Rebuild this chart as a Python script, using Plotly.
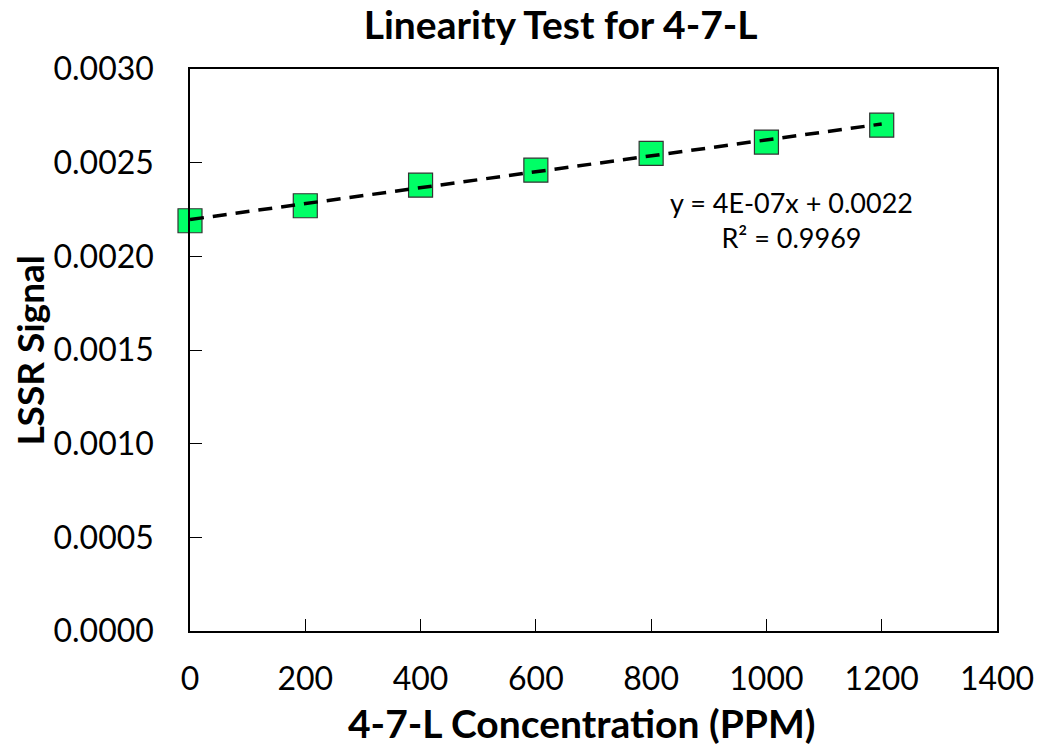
import numpy as np
import plotly.graph_objects as go

concentration = [0, 200, 400, 600, 800, 1000, 1200]
lssr_signal = [0.00219, 0.00227, 0.00238, 0.00246, 0.00255, 0.00261, 0.00270]
x_ticks = [0, 200, 400, 600, 800, 1000, 1200, 1400]
y_ticks = [0.0, 0.0005, 0.0010, 0.0015, 0.0020, 0.0025, 0.0030]

slope, intercept = np.polyfit(concentration, lssr_signal, 1)
trend_x = [concentration[0], concentration[-1]]
trend_y = [slope * v + intercept for v in trend_x]

FONT = "Lato"

fig = go.Figure()
fig.add_trace(go.Scatter(
    x=concentration, y=lssr_signal, mode="markers", cliponaxis=False,
    marker=dict(symbol="square", size=24, color="#00FF66",
                line=dict(color="#333333", width=1.2)),
    showlegend=False,
))
fig.add_trace(go.Scatter(
    x=trend_x, y=trend_y, mode="lines", cliponaxis=False,
    line=dict(color="black", width=3.5, dash="14px,9px"),
    showlegend=False,
))

fig.add_annotation(
    x=0.745, y=0.732, xref="paper", yref="paper",
    xanchor="center", yanchor="middle",
    text="y = 4E-07x + 0.0022<br>R² = 0.9969",
    showarrow=False, align="center",
    font=dict(family=FONT, size=27, color="black"),
)
# axis titles
fig.add_annotation(
    x=-0.2, y=0.5, xref="paper", yref="paper",
    xanchor="center", yanchor="middle", textangle=-90,
    text="<b>LSSR Signal</b>", showarrow=False,
    font=dict(family=FONT, size=37, color="black"),
)
fig.add_annotation(
    x=0.486, y=-0.163, xref="paper", yref="paper",
    xanchor="center", yanchor="middle",
    text="<b>4-7-L Concentration (PPM)</b>", showarrow=False,
    font=dict(family=FONT, size=39, color="black"),
)

fig.update_layout(
    width=1046, height=748,
    margin=dict(l=190, r=41, t=69, b=117),
    paper_bgcolor="white", plot_bgcolor="white",
    title=dict(text="<b>Linearity Test for 4-7-L</b>", x=0.536, xanchor="center",
               y=0.966, yanchor="middle",
               font=dict(family=FONT, size=39, color="black")),
    font=dict(family=FONT, color="black"),
)
fig.update_xaxes(
    range=[0, 1400], tickvals=x_ticks, ticktext=[str(v) for v in x_ticks],
    ticks="inside", ticklen=12, tickwidth=1.2, tickcolor="black",
    showline=True, linecolor="black", linewidth=1.5, mirror=True,
    showgrid=False, zeroline=False, ticklabelstandoff=19,
    tickfont=dict(family=FONT, size=32, color="black"),
)
fig.update_yaxes(
    range=[0, 0.003], tickvals=y_ticks, tickformat=".4f",
    ticks="inside", ticklen=12, tickwidth=1.2, tickcolor="black",
    showline=True, linecolor="black", linewidth=1.5, mirror=True,
    showgrid=False, zeroline=False, ticklabelstandoff=28,
    tickfont=dict(family=FONT, size=32, color="black"),
)

fig.write_html("out.html")
